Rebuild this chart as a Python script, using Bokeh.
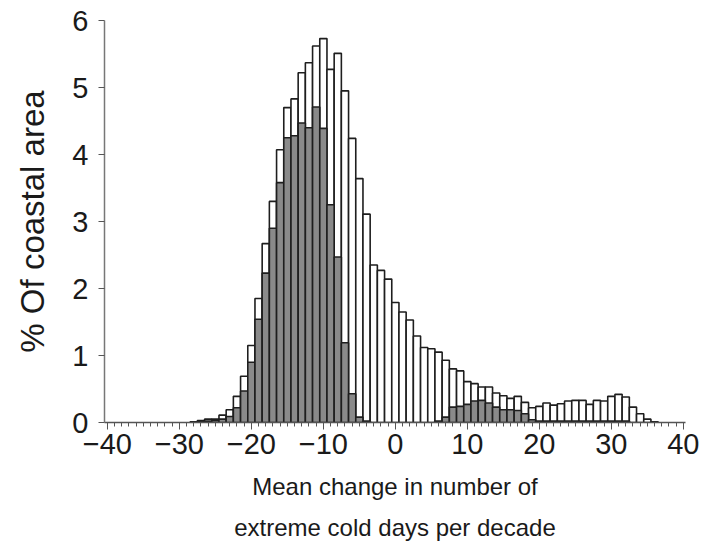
from bokeh.plotting import figure
from bokeh.models import FixedTicker, Range1d
from bokeh.embed import file_html
from bokeh.resources import INLINE

# bin centres (width 1), % of coastal area
bins = list(range(-28, 37))
white_vals = [0.01, 0.03, 0.05, 0.05, 0.11, 0.19, 0.39, 0.69, 1.15, 1.85,
              2.67, 3.30, 4.07, 4.70, 4.83, 5.22, 5.37, 5.62, 5.73, 5.27,
              5.51, 4.95, 4.24, 3.64, 3.11, 2.35, 2.27, 2.14, 1.79, 1.65,
              1.53, 1.29, 1.12, 1.10, 1.05, 0.93, 0.80, 0.77, 0.61, 0.58,
              0.53, 0.53, 0.44, 0.40, 0.36, 0.39, 0.30, 0.22, 0.24, 0.29,
              0.26, 0.28, 0.32, 0.33, 0.33, 0.27, 0.33, 0.32, 0.39, 0.42,
              0.38, 0.23, 0.13, 0.05, 0.01]
gray_vals = [0.00, 0.01, 0.02, 0.03, 0.05, 0.09, 0.22, 0.47, 0.90, 1.54,
             2.23, 2.90, 3.58, 4.25, 4.28, 4.47, 4.40, 4.71, 4.39, 3.25,
             2.47, 1.19, 0.43, 0.08, 0.02, 0.00, 0.00, 0.00, 0.00, 0.00,
             0.00, 0.00, 0.00, 0.00, 0.02, 0.08, 0.23, 0.24, 0.27, 0.32,
             0.33, 0.29, 0.23, 0.19, 0.19, 0.18, 0.13, 0.04, 0.02, 0.02,
             0.02, 0.02, 0.02, 0.02, 0.02, 0.02, 0.02, 0.02, 0.02, 0.02,
             0.02, 0.00, 0.00, 0.00, 0.00]

x_ticks = [-40, -30, -20, -10, 0, 10, 20, 30, 40]
y_ticks = [0, 1, 2, 3, 4, 5, 6]

p = figure(width=703, height=544, output_backend="svg", toolbar_location=None,
           x_range=Range1d(-40.4, 40.3), y_range=Range1d(0, 6),
           min_border_left=104, min_border_right=18, min_border_top=20,
           min_border_bottom=121)
p.outline_line_color = None
p.grid.visible = False
p.background_fill_color = "white"

wx = [b for b, v in zip(bins, white_vals) if v > 0]
wt = [v for v in white_vals if v > 0]
gx = [b for b, v in zip(bins, gray_vals) if v > 0]
gt = [v for v in gray_vals if v > 0]

p.vbar(x=wx, top=wt, bottom=0, width=1.0, fill_color="white",
       line_color="#1e1e1e", line_width=1.6)
p.vbar(x=gx, top=gt, bottom=0, width=1.0, fill_color="#8a8a8a",
       line_color="#1e1e1e", line_width=1.6)

font = "Liberation Sans"
xa = p.xaxis[0]
xa.ticker = FixedTicker(ticks=x_ticks, minor_ticks=list(range(-40, 41)))
xa.major_label_overrides = {t: (("\u2212" + str(-t)) if t < 0 else str(t)) for t in x_ticks}
xa.axis_label = "Mean change in number of\nextreme cold days per decade"
xa.axis_label_text_font_size = "24px"
xa.axis_label_text_font_style = "normal"
xa.axis_label_text_font = font
xa.axis_label_text_color = "#1a1a1a"
xa.axis_label_text_line_height = 1.55
xa.axis_label_standoff = 16
xa.major_label_text_font_size = "29px"
xa.major_label_text_font = font
xa.major_label_text_color = "#1a1a1a"
xa.major_label_standoff = 4
xa.major_tick_out = 7
xa.major_tick_in = 0
xa.minor_tick_out = 4
xa.minor_tick_in = 0
xa.axis_line_color = "#555555"
xa.major_tick_line_color = "#555555"
xa.minor_tick_line_color = "#555555"
xa.axis_line_width = 1.5

ya = p.yaxis[0]
ya.ticker = FixedTicker(ticks=y_ticks, minor_ticks=[])
ya.axis_label = "% Of coastal area"
ya.axis_label_text_font_size = "33px"
ya.axis_label_text_font_style = "normal"
ya.axis_label_text_font = font
ya.axis_label_text_color = "#1a1a1a"
ya.axis_label_standoff = 18
ya.major_label_text_font_size = "29px"
ya.major_label_text_font = font
ya.major_label_text_color = "#1a1a1a"
ya.major_label_standoff = 10
ya.major_tick_out = 6
ya.major_tick_in = 0
ya.axis_line_color = "#777777"
ya.major_tick_line_color = "#555555"
ya.axis_line_width = 1.5

open("out.html", "w").write(file_html(p, INLINE))
